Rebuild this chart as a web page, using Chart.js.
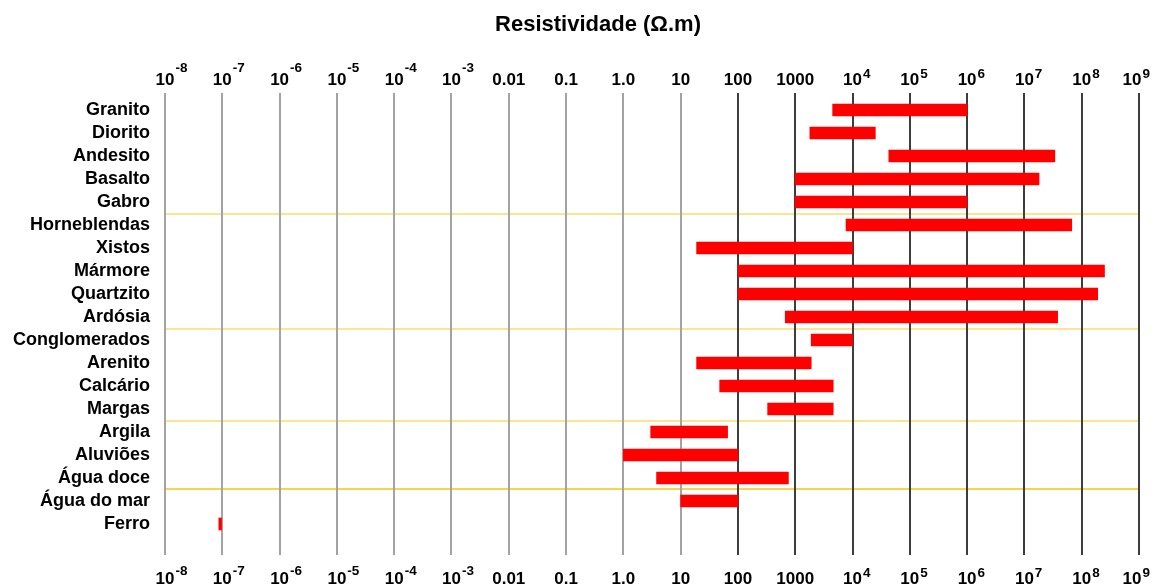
<!DOCTYPE html>
<html>
<head>
<meta charset="utf-8">
<title>Resistividade (Ω.m)</title>
<script src="https://cdn.jsdelivr.net/npm/chart.js@4/dist/chart.umd.min.js"></script>
<style>
  html, body { margin: 0; padding: 0; background: #ffffff; }
  #wrap { width: 1155px; height: 587px; position: relative; }
</style>
</head>
<body>
<div id="wrap"><canvas id="chart"></canvas></div>
<script>
// Materials, top to bottom
const materials = [
  'Granito', 'Diorito', 'Andesito', 'Basalto', 'Gabro',
  'Horneblendas', 'Xistos', 'Mármore', 'Quartzito', 'Ardósia',
  'Conglomerados', 'Arenito', 'Calcário', 'Margas',
  'Argila', 'Aluviões', 'Água doce',
  'Água do mar', 'Ferro'
];

// Resistivity range of each material (Ω.m)
const lowValues = [
  4500, 1800, 43000, 1000, 1000,
  7700, 19, 100, 100, 670,
  1900, 19, 48, 330,
  3, 1, 3.8,
  10, 8.7e-8
];
const highValues = [
  1e6, 25000, 3.4e7, 1.8e7, 1e6,
  6.7e7, 1e4, 2.5e8, 1.9e8, 3.8e7,
  1e4, 1900, 4600, 4600,
  66, 100, 760,
  100, 9.7e-8
];

// Last material of each group (a separator is drawn below it)
const groupEnds = [4, 9, 13, 16];

// Decades of the resistivity axis and their printed labels
const decadeValues = [
  1e-8, 1e-7, 1e-6, 1e-5, 1e-4, 1e-3, 1e-2, 1e-1, 1,
  10, 100, 1000, 1e4, 1e5, 1e6, 1e7, 1e8, 1e9
];
const tickBases = [
  '10', '10', '10', '10', '10', '10', '0.01', '0.1', '1.0',
  '10', '100', '1000', '10', '10', '10', '10', '10', '10'
];
const tickExponents = [
  '-8', '-7', '-6', '-5', '-4', '-3', '', '', '',
  '', '', '', '4', '5', '6', '7', '8', '9'
];

const chartTitle = 'Resistividade (Ω.m)';

const FONT_FAMILY = "'Liberation Sans', Arial, Helvetica, sans-serif";

// Pale yellow lines between the groups of materials
const groupSeparators = {
  id: 'groupSeparators',
  beforeDraw(chart) {
    const { ctx, chartArea, scales: { y } } = chart;
    ctx.save();
    ctx.lineWidth = 2;
    groupEnds.forEach((end, i) => {
      const py = Math.round(y.getPixelForValue(end + 0.5));
      ctx.strokeStyle = i === groupEnds.length - 1 ? 'rgba(247, 206, 60, 0.9)' : 'rgba(250, 222, 120, 0.8)';
      ctx.beginPath();
      ctx.moveTo(chartArea.left, py);
      ctx.lineTo(chartArea.right, py);
      ctx.stroke();
    });
    ctx.restore();
  }
};

// Title and decade labels above and below the plot, with superscript exponents
const decadeLabels = {
  id: 'decadeLabels',
  afterDraw(chart) {
    const { ctx, chartArea, scales: { x } } = chart;
    const baseFont = 'bold 17px ' + FONT_FAMILY;
    const expFont = 'bold 13.5px ' + FONT_FAMILY;
    const rightLimit = chart.width - 5;
    ctx.save();
    ctx.fillStyle = '#000000';
    ctx.textBaseline = 'alphabetic';

    ctx.font = 'bold 22px ' + FONT_FAMILY;
    ctx.textAlign = 'center';
    ctx.fillText(chartTitle, 598, 31);

    ctx.textAlign = 'left';
    decadeValues.forEach((v, i) => {
      const px = x.getPixelForValue(v);
      const base = tickBases[i];
      const exp = tickExponents[i];
      const negative = exp.startsWith('-');
      ctx.font = baseFont;
      const w = ctx.measureText(base).width;
      ctx.font = expFont;
      const ew = exp ? ctx.measureText(exp).width + 1 : 0;
      // keep the last label inside the canvas
      const shift = Math.min(0, rightLimit - (px + w / 2 + ew));
      const rows = [
        { y: chartArea.top - 8, raise: negative ? 13 : 7 },
        { y: chartArea.bottom + 29, raise: negative ? 9 : 7 }
      ];
      rows.forEach(r => {
        ctx.font = baseFont;
        ctx.fillText(base, px - w / 2 + shift, r.y);
        if (exp) {
          ctx.font = expFont;
          ctx.fillText(exp, px + w / 2 + 1 + shift, r.y - r.raise);
        }
      });
    });
    ctx.restore();
  }
};

const ROW_PX = 23;       // height of one material row
const FIRST_ROW_PX = 17; // distance from plot top to the first row
const PLOT_PX = 462;     // plot height

new Chart(document.getElementById('chart'), {
  type: 'bar',
  data: {
    datasets: [{
      data: materials.map((_, i) => ({ y: i, x: [lowValues[i], highValues[i]] })),
      backgroundColor: '#ff0000',
      borderWidth: 0,
      borderSkipped: false,
      barThickness: 12
    }]
  },
  options: {
    indexAxis: 'y',
    responsive: true,
    maintainAspectRatio: false,
    animation: false,
    layout: { padding: { left: 0, right: 16, top: 93, bottom: 32 } },
    plugins: {
      legend: { display: false },
      tooltip: { enabled: false },
      title: { display: false }
    },
    scales: {
      x: {
        type: 'logarithmic',
        position: 'bottom',
        min: 1e-8,
        max: 1e9,
        offset: false,
        afterBuildTicks(scale) {
          scale.ticks = decadeValues.map(v => ({ value: v }));
        },
        ticks: { display: false },
        border: { display: false },
        grid: {
          offset: false,
          drawTicks: false,
          lineWidth: 2,
          color: ctx => (ctx.tick && ctx.tick.value >= 100 ? '#3d3d3d' : '#a3a3a3')
        }
      },
      y: {
        type: 'linear',
        reverse: true,
        offset: false,
        min: -FIRST_ROW_PX / ROW_PX,
        max: (PLOT_PX - FIRST_ROW_PX) / ROW_PX,
        afterBuildTicks(scale) {
          scale.ticks = materials.map((_, i) => ({ value: i }));
        },
        afterFit(scale) {
          scale.width = 165;
        },
        ticks: {
          autoSkip: false,
          padding: 15,
          color: '#000000',
          font: { family: FONT_FAMILY, size: 18, weight: 'bold' },
          callback: v => materials[v]
        },
        border: { display: false },
        grid: { display: false, drawTicks: false, offset: false }
      }
    }
  },
  plugins: [groupSeparators, decadeLabels]
});
</script>
</body>
</html>
